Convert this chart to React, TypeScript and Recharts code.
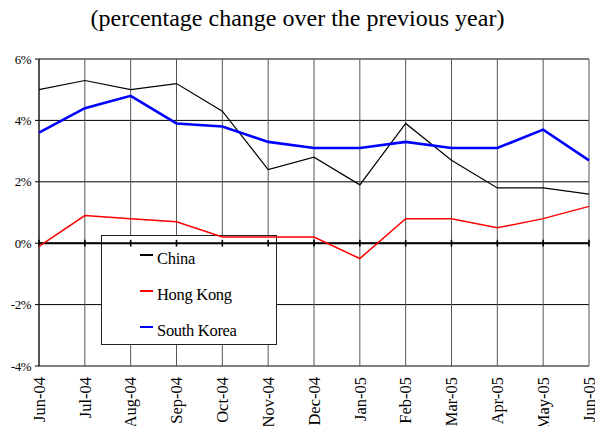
import { LineChart, Line, XAxis, YAxis, CartesianGrid, ReferenceLine, Legend } from 'recharts';

const months = ['Jun-04', 'Jul-04', 'Aug-04', 'Sep-04', 'Oct-04', 'Nov-04', 'Dec-04', 'Jan-05', 'Feb-05', 'Mar-05', 'Apr-05', 'May-05', 'Jun-05'];
const china = [5.0, 5.3, 5.0, 5.2, 4.3, 2.4, 2.8, 1.9, 3.9, 2.7, 1.8, 1.8, 1.6];
const hongKong = [-0.1, 0.9, 0.8, 0.7, 0.2, 0.2, 0.2, -0.5, 0.8, 0.8, 0.5, 0.8, 1.2];
const southKorea = [3.6, 4.4, 4.8, 3.9, 3.8, 3.3, 3.1, 3.1, 3.3, 3.1, 3.1, 3.7, 2.7];
const yTicks = [-4, -2, 0, 2, 4, 6];

const series = [
	{ key: 'china', name: 'China', color: '#000000', width: 1.2 },
	{ key: 'hongKong', name: 'Hong Kong', color: '#ff0000', width: 1.5 },
	{ key: 'southKorea', name: 'South Korea', color: '#0000ff', width: 2.6 },
];

const data = months.map((m, i) => ({ month: m, china: china[i], hongKong: hongKong[i], southKorea: southKorea[i] }));

const FONT = 'Liberation Serif';
const W = 595;
const H = 426;

const MonthTick = ({ x, y, payload }: any) => (
	<text
		x={0}
		y={0}
		transform={`translate(${x},${y}) rotate(-90)`}
		textAnchor='end'
		dy='0.35em'
		style={{ fontFamily: FONT, fontSize: 16.5 }}
		fill='#000'
	>
		{payload.value}
	</text>
);

const LegendBox = () => (
	<div
		style={{
			width: 176,
			height: 110,
			boxSizing: 'border-box',
			border: '1px solid #222',
			background: '#fff',
			fontFamily: FONT,
			fontSize: 16.5,
			color: '#000',
			paddingTop: 5,
			paddingLeft: 38,
		}}
	>
		{series.map((s) => (
			<div key={s.key} style={{ display: 'flex', alignItems: 'center', height: 36 }}>
				<span style={{ display: 'inline-block', width: 13, height: 2, background: s.color, marginRight: 4, marginTop: -9 }} />
				<span style={{ letterSpacing: -0.3 }}>{s.name}</span>
			</div>
		))}
	</div>
);

export default function App() {
	return (
		<div style={{ position: 'absolute', left: 0, top: 0, width: W, height: H, background: '#fff', overflow: 'hidden', fontFamily: FONT }}>
			<div
				style={{
					position: 'absolute',
					left: 0,
					top: 5,
					width: W,
					textAlign: 'center',
					fontFamily: FONT,
					fontSize: 24,
					color: '#000',
				}}
			>
				(percentage change over the previous year)
			</div>

			{/* bottom layer: grid, axis labels, legend box */}
			<div style={{ position: 'absolute', left: 0, top: 0 }}>
				<LineChart width={W} height={H} data={data} margin={{ top: 59, right: 6, bottom: 0, left: 0 }} style={{ fontFamily: FONT }}>
					<CartesianGrid vertical={false} stroke='#000' strokeWidth={1} />
					<CartesianGrid horizontal={false} stroke='#555' strokeWidth={1} />
					<XAxis
						dataKey='month'
						height={60}
						axisLine={false}
						tickLine={false}
						tickSize={0}
						tickMargin={11}
						interval={0}
						tick={<MonthTick />}
					/>
					<YAxis
						width={39}
						domain={[-4, 6]}
						ticks={yTicks}
						tickFormatter={(v) => `${v}%`}
						axisLine={{ stroke: '#000' }}
						tickLine={{ stroke: '#000' }}
						tickSize={4}
						tickMargin={4}
						tick={{ fontSize: 13, fill: '#000', letterSpacing: -0.5, style: { fontFamily: FONT } }}
					/>
					<Legend
						layout='horizontal'
						align='center'
						verticalAlign='middle'
						wrapperStyle={{ left: 101, top: 235, width: 176 }}
						content={<LegendBox />}
					/>
					{series.map((s) => (
						<Line
							key={s.key}
							dataKey={s.key}
							name={s.name}
							stroke={s.color}
							strokeOpacity={0}
							dot={false}
							isAnimationActive={false}
						/>
					))}
				</LineChart>
			</div>

			{/* top layer: zero line, ticks on it, series */}
			<div style={{ position: 'absolute', left: 0, top: 0, pointerEvents: 'none' }}>
				<LineChart width={W} height={H} data={data} margin={{ top: 59, right: 6, bottom: 60, left: 39 }}>
					<XAxis dataKey='month' hide />
					<YAxis domain={[-4, 6]} ticks={yTicks} hide />
					<ReferenceLine y={0} stroke='#000' strokeWidth={2} />
					{months.map((m) => (
						<ReferenceLine
							key={m}
							segment={[
								{ x: m, y: -0.11 },
								{ x: m, y: 0.11 },
							]}
							stroke='#000'
							strokeWidth={1.6}
						/>
					))}
					{series.map((s) => (
						<Line
							key={s.key}
							type='linear'
							dataKey={s.key}
							name={s.name}
							stroke={s.color}
							strokeWidth={s.width}
							dot={false}
							isAnimationActive={false}
						/>
					))}
				</LineChart>
			</div>
		</div>
	);
}
